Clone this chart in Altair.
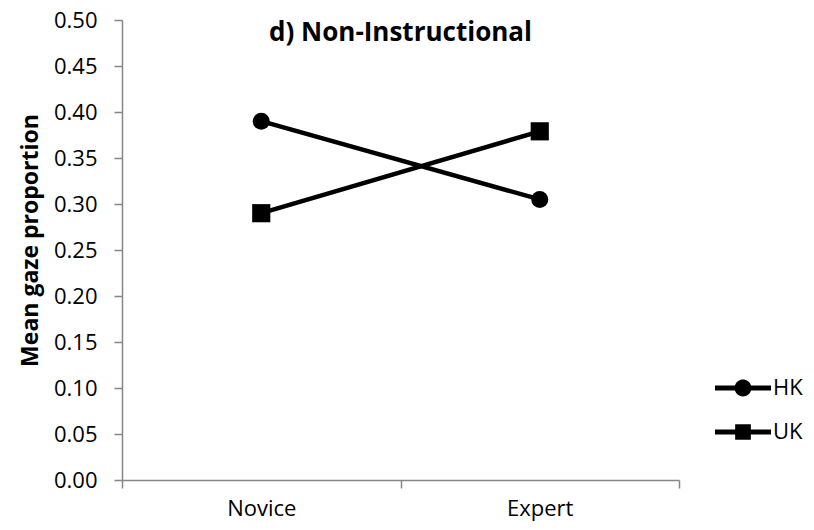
import altair as alt
import pandas as pd

groups = ["Novice", "Expert"]
series = ["HK", "UK"]
hk_values = [0.390, 0.305]
uk_values = [0.290, 0.379]
y_ticks = [0.00, 0.05, 0.10, 0.15, 0.20, 0.25, 0.30, 0.35, 0.40, 0.45, 0.50]

rows = []
for s, vals in zip(series, [hk_values, uk_values]):
    for g, v in zip(groups, vals):
        rows.append({"group": g, "series": s, "value": v})
df = pd.DataFrame(rows)

FONT = "Open Sans"

# legend symbols: line segment with a marker in the middle (custom paths)
circle_legend = ("M-1,-0.09 L-0.287,-0.09 A0.3,0.3 0 0,1 0.287,-0.09 L1,-0.09 L1,0.09 "
                 "L0.287,0.09 A0.3,0.3 0 0,1 -0.287,0.09 L-1,0.09 Z")
square_legend = ("M-1,-0.09 L-0.28,-0.09 L-0.28,-0.28 L0.28,-0.28 L0.28,-0.09 L1,-0.09 "
                 "L1,0.09 L0.28,0.09 L0.28,0.28 L-0.28,0.28 L-0.28,0.09 L-1,0.09 Z")

x_enc = alt.X(
    "group:N",
    sort=groups,
    bandPosition=0.5,
    scale=alt.Scale(type="band", paddingInner=0, paddingOuter=0),
    axis=alt.Axis(
        title=None, labelAngle=0, tickBand="extent", labelFont=FONT, labelFontSize=22,
        labelColor="black", domainColor="#868686", tickColor="#868686", tickSize=8,
        labelPadding=10, domainWidth=1.5, tickWidth=1.5,
    ),
)
y_enc = alt.Y(
    "value:Q",
    scale=alt.Scale(domain=[0, 0.5], nice=False, zero=True),
    axis=alt.Axis(
        values=y_ticks, format=".2f", title="Mean gaze proportion", titleFont=FONT,
        titleFontSize=23, titleFontWeight="bold", titleColor="black", titlePadding=11,
        titleY=220,
        labelFont=FONT, labelFontSize=22, labelColor="black", domainColor="#868686",
        tickColor="#868686", tickSize=8, labelPadding=17, grid=False,
        domainWidth=1.5, tickWidth=1.5,
    ),
)

base = alt.Chart(df)

lines = base.mark_line(color="black", strokeWidth=4.5).encode(
    x=x_enc, y=y_enc, detail="series:N"
)

points = base.mark_point(filled=True, color="black", opacity=1).encode(
    x=x_enc,
    y=y_enc,
    shape=alt.Shape("series:N", scale=alt.Scale(domain=series, range=["circle", "square"]), legend=None),
    size=alt.Size("series:N", scale=alt.Scale(domain=series, range=[290, 330]), legend=None),
)

legend_layer = base.mark_point(filled=True, color="black", opacity=0).encode(
    x=x_enc,
    y=y_enc,
    shape=alt.Shape(
        "series:N",
        scale=alt.Scale(domain=series, range=[circle_legend, square_legend]),
        legend=alt.Legend(
            title=None, orient="none", legendX=593, legendY=340, padding=0,
            symbolSize=3136, symbolFillColor="black", symbolStrokeWidth=0,
            symbolOpacity=1, labelFont=FONT, labelFontSize=22, labelColor="black",
            labelOffset=2, rowPadding=5,
        ),
    ),
)

chart = (
    alt.layer(lines, points, legend_layer)
    .resolve_scale(shape="independent", size="independent")
    .properties(
        width=557,
        height=460,
        title=alt.TitleParams(
            "d) Non-Instructional", font=FONT, fontSize=26, fontWeight="bold",
            color="black", anchor="middle", offset=-37,
        ),
        autosize=alt.AutoSizeParams(type="none"),
        padding={"left": 114, "top": 12, "right": 127, "bottom": 42},
    )
    .configure_view(stroke=None)
)

chart.save("out.html", embed_options={"renderer": "svg", "actions": False})
